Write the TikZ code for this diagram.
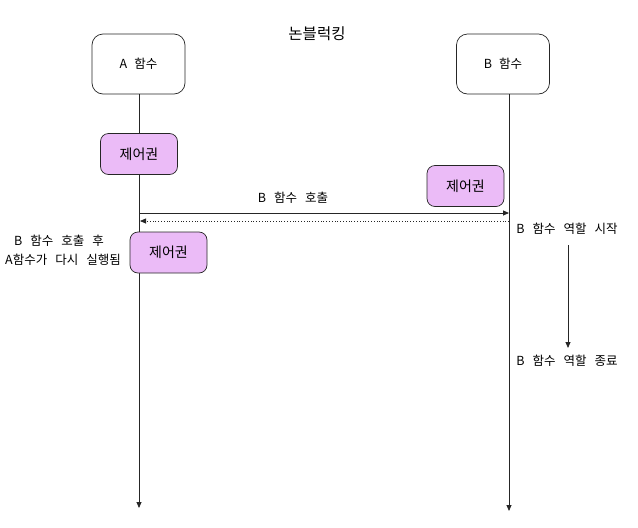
\documentclass[tikz,border=0pt]{standalone}
\usepackage{fontspec}
\setmainfont{Noto Sans CJK KR}
\usetikzlibrary{arrows.meta}
\definecolor{vio}{HTML}{EBBBF7}
\newcommand{\lblfont}{\fontsize{12.5}{15}\selectfont\spaceskip=8pt plus 1pt minus 1pt\relax}
\newcommand{\boxfont}{\fontsize{12.5}{15}\selectfont\spaceskip=7pt plus 1pt minus 1pt\relax}
\begin{document}
\begin{tikzpicture}[x=1pt,y=-1pt,
  fnbox/.style={draw=black!85,line width=0.7pt,rounded corners=11pt,fill=white,minimum width=93pt,minimum height=60pt,inner sep=0pt,font=\boxfont},
  ctlbox/.style={draw=black!85,line width=0.7pt,rounded corners=8pt,fill=vio,minimum width=77pt,minimum height=41pt,inner sep=0pt,font=\fontsize{14}{16}\selectfont},
  life/.style={draw=black!85,line width=0.8pt,-{Triangle[length=6pt,width=5pt]}},
  lbl/.style={font=\lblfont,inner sep=1pt}]
\useasboundingbox (0,0) rectangle (638,528);
\node[font=\fontsize{15.5}{17}\selectfont] (title) at (317,34) {논블럭킹};
\node[fnbox] (A) at (138.5,64) {A 함수};
\node[fnbox] (B) at (503,64) {B 함수};
\coordinate (Aend) at (139,508);
\coordinate (Bend) at (509,511);
\draw[life] (139,94) -- (Aend);
\draw[life] (509,94) -- (Bend);
\node[ctlbox] (c1) at (139,154) {제어권};
\node[ctlbox] (c2) at (465.5,186) {제어권};
\node[ctlbox] (c3) at (168.5,252.5) {제어권};
\coordinate (s1) at (139,213);
\coordinate (e1) at (509,213);
\draw[life] (s1) -- (e1);
\node[lbl] (call) at (293,198) {B 함수 호출};
\coordinate (s2) at (509,221);
\coordinate (e2) at (140,221);
\draw[draw=black!85,line width=0.8pt,dotted,-{Triangle[length=6pt,width=5pt]}] (s2) -- (e2);
\node[lbl] (after1) at (59,241) {B 함수 호출 후};
\node[lbl] (after2) at (63,259.5) {A함수가 다시 실행됨};
\node[lbl] (start) at (567,229) {B 함수 역할 시작};
\node[lbl] (stop) at (567,361) {B 함수 역할 종료};
\draw[life] (568,245) -- (568,348);
\end{tikzpicture}
\end{document}
